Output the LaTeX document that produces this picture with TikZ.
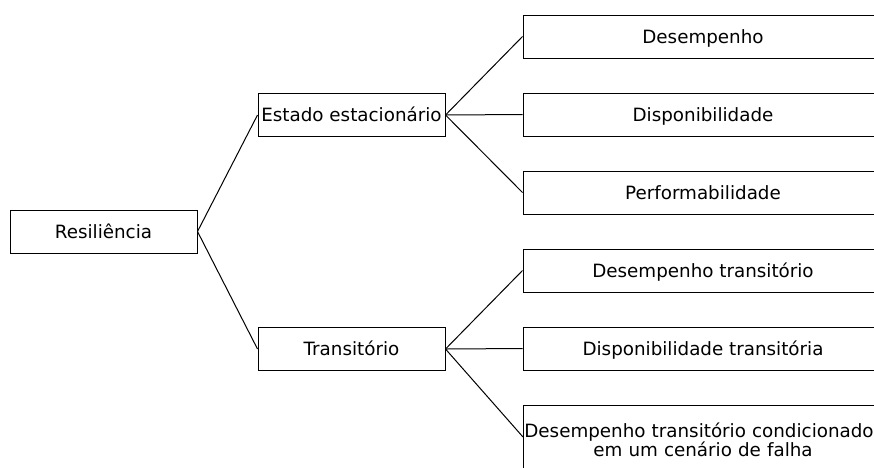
\documentclass[tikz,border=0pt]{standalone}
\usepackage{fontspec}
\setmainfont{DejaVu Sans}
\begin{document}
\begin{tikzpicture}[x=1pt,y=-1pt,
  basebox/.style={draw, line width=1pt, rectangle, inner sep=0pt, font=\fontsize{18.3}{18.5}\selectfont, align=center},
  box/.style={basebox, minimum width=187pt, minimum height=43pt, text height=13.4pt, text depth=0pt},
  rbox/.style={box, minimum width=360pt},
  conn/.style={line width=1pt}]
\useasboundingbox (0,0) rectangle (874,467);
\clip (0,0) rectangle (874,467);
\node[box] (res) at (103.5,231.5) {Resiliência};
\node[box] (est) at (351.5,115) {Estado estacionário};
\node[box] (tra) at (351.5,349) {Transitório};
\node[rbox] (d1) at (703,36.5) {Desempenho};
\node[rbox] (d2) at (703,114.5) {Disponibilidade};
\node[rbox] (d3) at (703,192.5) {Performabilidade};
\node[rbox] (t1) at (703,270.5) {Desempenho transitório};
\node[rbox] (t2) at (703,348.5) {Disponibilidade transitória};
\node[basebox, minimum width=360pt, text width=356pt, minimum height=70pt] (t3) at (703,440) {\hspace*{-8pt}Desempenho transitório condicionado\\em um cenário de falha};
\coordinate (t3w) at (523,437);
\draw[conn] (res.east) -- (est.west);
\draw[conn] (res.east) -- (tra.west);
\draw[conn] (est.east) -- (d1.west);
\draw[conn] (est.east) -- (d2.west);
\draw[conn] (est.east) -- (d3.west);
\draw[conn] (tra.east) -- (t1.west);
\draw[conn] (tra.east) -- (t2.west);
\draw[conn] (tra.east) -- (t3w);
\end{tikzpicture}
\end{document}
